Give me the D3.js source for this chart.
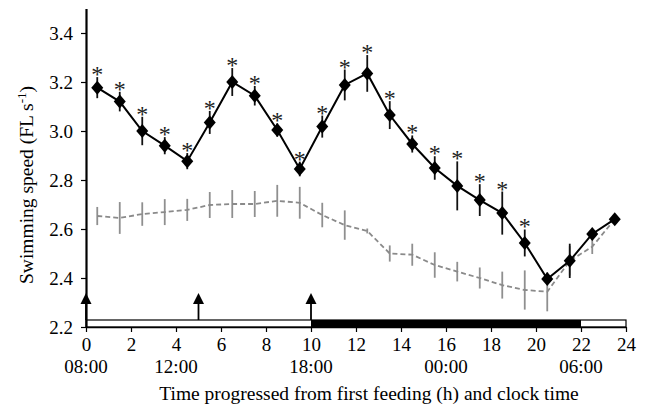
<!DOCTYPE html>
<html>
<head>
<meta charset="utf-8">
<script src="https://cdn.jsdelivr.net/npm/d3@7"></script>
<style>
body { margin: 0; background: #fff; }
text { font-family: "Liberation Serif", "Times New Roman", serif; }
</style>
</head>
<body>
<script>
// hours after first feeding (mid-point of each hourly bin)
var hours = [0.5, 1.5, 2.5, 3.5, 4.5, 5.5, 6.5, 7.5, 8.5, 9.5, 10.5, 11.5,
             12.5, 13.5, 14.5, 15.5, 16.5, 17.5, 18.5, 19.5, 20.5, 21.5, 22.5, 23.5];

// fed group (black diamonds)
var fedMean = [3.177, 3.12, 3.00, 2.94, 2.877, 3.035, 3.20, 3.144, 3.004, 2.845, 3.018, 3.188,
               3.235, 3.065, 2.947, 2.849, 2.776, 2.718, 2.665, 2.543, 2.396, 2.47, 2.58, 2.64];
var fedErr = [0.043, 0.04, 0.058, 0.035, 0.033, 0.047, 0.057, 0.04, 0.027, 0.03, 0.045, 0.063,
              0.075, 0.057, 0.035, 0.048, 0.1, 0.065, 0.088, 0.055, 0.015, 0.07, 0.02, 0.01];
var signif = [1,1,1,1,1,1,1,1,1,1,1,1,1,1,1,1,1,1,1,1,0,0,0,0];

// control group (grey dashed)
var ctrlMean = [2.653, 2.645, 2.661, 2.669, 2.678, 2.698, 2.702, 2.702, 2.715, 2.707, 2.657, 2.616,
                2.592, 2.50, 2.495, 2.453, 2.426, 2.40, 2.371, 2.351, 2.344, 2.47, 2.528, 2.64];
var ctrlErr = [0.037, 0.065, 0.048, 0.053, 0.045, 0.053, 0.057, 0.053, 0.065, 0.065, 0.05, 0.06,
               0.01, 0.033, 0.045, 0.052, 0.04, 0.043, 0.055, 0.08, 0.08, 0.06, 0.03, 0.01];

var yTicks = [2.2, 2.4, 2.6, 2.8, 3.0, 3.2, 3.4];
var xTicks = [0, 2, 4, 6, 8, 10, 12, 14, 16, 18, 20, 22, 24];
var clockTicks = [[0, "08:00"], [4, "12:00"], [10, "18:00"], [16, "00:00"], [22, "06:00"]];
var feedings = [0, 5, 10];
var darkPhase = [10, 22];

var width = 646, height = 406;
var serif = "'Liberation Serif', 'Times New Roman', serif";

var svg = d3.select("body").append("svg").attr("width", width).attr("height", height);

var x = d3.scaleLinear().domain([0, 24]).range([86, 626]);
var y = d3.scaleLinear().domain([2.2, 3.5]).range([327, 8.5]);

// light / dark bar
var barTop = y(2.2) - 7;
svg.append("rect")
	.attr("x", x(0)).attr("y", barTop)
	.attr("width", x(24) - x(0)).attr("height", 7)
	.attr("fill", "#fff").attr("stroke", "#000").attr("stroke-width", 1.2);
svg.append("rect")
	.attr("x", x(darkPhase[0])).attr("y", barTop)
	.attr("width", x(darkPhase[1]) - x(darkPhase[0])).attr("height", 7)
	.attr("fill", "#000");

// feeding arrows
var arrows = svg.selectAll(".arrow").data(feedings).enter().append("g").attr("class", "arrow");
arrows.append("line")
	.attr("x1", function(d){ return x(d); }).attr("x2", function(d){ return x(d); })
	.attr("y1", barTop).attr("y2", barTop - 20)
	.attr("stroke", "#000").attr("stroke-width", 1.8);
arrows.append("path")
	.attr("d", function(d){ var cx = x(d), t = barTop - 27;
		return "M" + cx + "," + t + "L" + (cx + 5.5) + "," + (t + 11) + "L" + (cx - 5.5) + "," + (t + 11) + "Z"; })
	.attr("fill", "#000");

// axes
var yAxis = svg.append("g").attr("transform", "translate(" + x(0) + ",0)")
	.call(d3.axisLeft(y).tickValues(yTicks).tickSize(5).tickSizeOuter(0).tickFormat(d3.format(".1f")));
var xAxis = svg.append("g").attr("transform", "translate(0," + y(2.2) + ")")
	.call(d3.axisBottom(x).tickValues(xTicks).tickSize(5).tickSizeOuter(0));

[yAxis, xAxis].forEach(function(a){
	a.attr("font-family", serif);
	a.select(".domain").attr("stroke", "#000").attr("stroke-width", 1.5);
	a.selectAll(".tick line").attr("stroke", "#000").attr("stroke-width", 1.2);
	a.selectAll("text").style("font-family", serif).attr("font-size", 19).attr("fill", "#000");
});
yAxis.select(".domain").attr("stroke-width", 2.2);
yAxis.selectAll(".tick text").attr("x", -13);
xAxis.selectAll(".tick text").attr("y", 11);

svg.selectAll(".clock").data(clockTicks).enter().append("text")
	.attr("x", function(d){ return x(d[0]); })
	.attr("y", 373)
	.attr("text-anchor", "middle")
	.attr("font-size", 19)
	.text(function(d){ return d[1]; });

svg.append("text")
	.attr("x", 369).attr("y", 400)
	.attr("text-anchor", "middle")
	.attr("font-size", 19.5)
	.text("Time progressed from first feeding (h) and clock time");

var yl = svg.append("text")
	.attr("transform", "translate(33,185) rotate(-90)")
	.attr("text-anchor", "middle")
	.attr("font-size", 19.5);
yl.append("tspan").text("Swimming speed (FL s");
yl.append("tspan").attr("font-size", 13).attr("dy", -7).text("-1");
yl.append("tspan").attr("dy", 7).text(")");

// control series
var ctrl = hours.map(function(h, i){ return {h: h, m: ctrlMean[i], e: ctrlErr[i]}; });
var fed = hours.map(function(h, i){ return {h: h, m: fedMean[i], e: fedErr[i], s: signif[i]}; });

var line = d3.line().x(function(d){ return x(d.h); }).y(function(d){ return y(d.m); });

svg.selectAll(".cerr").data(ctrl).enter().append("line")
	.attr("x1", function(d){ return x(d.h); }).attr("x2", function(d){ return x(d.h); })
	.attr("y1", function(d){ return y(d.m - d.e); }).attr("y2", function(d){ return y(d.m + d.e); })
	.attr("stroke", "#8f8f8f").attr("stroke-width", 1.8);

svg.append("path").datum(ctrl)
	.attr("d", line)
	.attr("fill", "none").attr("stroke", "#8a8a8a").attr("stroke-width", 1.8)
	.attr("stroke-dasharray", "5,3");

// fed series
svg.selectAll(".ferr").data(fed).enter().append("line")
	.attr("x1", function(d){ return x(d.h); }).attr("x2", function(d){ return x(d.h); })
	.attr("y1", function(d){ return y(d.m - d.e); }).attr("y2", function(d){ return y(d.m + d.e); })
	.attr("stroke", "#111").attr("stroke-width", 1.8);

svg.append("path").datum(fed)
	.attr("d", line)
	.attr("fill", "none").attr("stroke", "#000").attr("stroke-width", 2);

svg.selectAll(".pt").data(fed).enter().append("path")
	.attr("transform", function(d){ return "translate(" + x(d.h) + "," + y(d.m) + ")"; })
	.attr("d", "M0,-7L6,0L0,7L-6,0Z")
	.attr("fill", "#000");

svg.selectAll(".star").data(fed.filter(function(d){ return d.s; })).enter().append("text")
	.attr("x", function(d){ return x(d.h); })
	.attr("y", function(d){ return y(d.m + d.e) + 5; })
	.attr("text-anchor", "middle")
	.attr("font-size", 24)
	.attr("fill", "#222")
	.text("*");
</script>
</body>
</html>
